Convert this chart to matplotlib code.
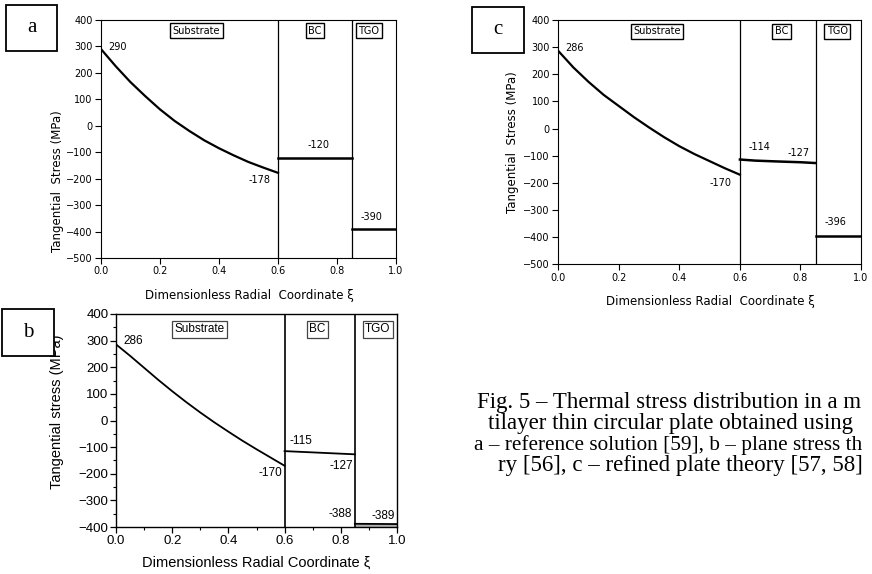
import matplotlib
matplotlib.use('Agg')
import matplotlib.pyplot as plt
from matplotlib.patches import Rectangle
from matplotlib.ticker import FormatStrFormatter, MultipleLocator

W, H = 872, 574
fig = plt.figure(figsize=(W / 100, H / 100), dpi=100)

def fx(px):
    return px / W

def fy(py):
    return 1 - py / H

# ---------------- data ----------------
xi_sub = [0.0, 0.05, 0.1, 0.15, 0.2, 0.25, 0.3, 0.35, 0.4, 0.45, 0.5, 0.55, 0.6]
a_sub = [290, 225, 165, 112, 62, 18, -20, -55, -85, -112, -137, -158, -178]
b_sub = [286, 243, 198, 153, 110, 69, 30, -7, -42, -76, -108, -139, -170]
c_sub = [286, 225, 172, 124, 83, 42, 4, -32, -65, -94, -120, -146, -170]

xi_bc = [0.6, 0.85]
a_bc = [-120, -120]
b_bc = [-115, -127]
xi_bc_c = [0.6, 0.65, 0.72, 0.8, 0.85]
c_bc = [-114, -118, -121, -124, -127]

xi_tgo = [0.85, 1.0]
a_tgo = [-390, -390]
b_tgo = [-388, -389]
c_tgo = [-395, -395]

interfaces = [0.6, 0.85]
layers = ['Substrate', 'BC', 'TGO']
xticks = [0.0, 0.2, 0.4, 0.6, 0.8, 1.0]
yticks_ac = [-500, -400, -300, -200, -100, 0, 100, 200, 300, 400]
yticks_b = [-400, -300, -200, -100, 0, 100, 200, 300, 400]

small = ['DejaVu Sans']
arial = ['Liberation Sans', 'DejaVu Sans']
serif = ['Liberation Serif', 'DejaVu Serif']


def excel_panel(ax, sub, bc_x, bc, tgo, ann, layer_pos):
    ax.set_xlim(0, 1)
    ax.set_ylim(-500, 400)
    ax.set_xticks(xticks)
    ax.set_yticks(yticks_ac)
    ax.xaxis.set_major_formatter(FormatStrFormatter('%.1f'))
    ax.tick_params(direction='out', length=4, width=0.8, pad=2, labelsize=7)
    for lab in ax.get_xticklabels() + ax.get_yticklabels():
        lab.set_family(small)
    for s in ax.spines.values():
        s.set_linewidth(0.8)
    for v in interfaces:
        ax.axvline(v, color='black', lw=0.9)
    ax.plot(xi_sub, sub, color='black', lw=1.6)
    ax.plot(bc_x, bc, color='black', lw=1.8)
    ax.plot(xi_tgo, tgo, color='black', lw=1.8)
    for (x, y, s, ha) in ann:
        ax.text(x, y, s, ha=ha, va='center', fontsize=7, family=small)
    for name, (x, y) in zip(layers, layer_pos):
        ax.text(x, y, name, ha='center', va='center', fontsize=7, family=small,
                bbox=dict(boxstyle='square,pad=0.25', fc='white', ec='black', lw=1.0))


# ---------------- panel a ----------------
axa = fig.add_axes([fx(101), fy(258), fx(295), 238 / H])
excel_panel(axa, a_sub, xi_bc, a_bc, a_tgo,
            [(0.024, 297, '290', 'left'), (0.537, -205, '-178', 'center'),
             (0.736, -72, '-120', 'center'), (0.917, -345, '-390', 'center')],
            [(0.324, 360), (0.725, 360), (0.908, 360)])
fig.text(fx(57), fy(181), 'Tangential  Stress (MPa)', rotation=90, ha='center',
         va='center', fontsize=8.5, family=small)
fig.text(fx(249), fy(295), 'Dimensionless Radial  Coordinate ξ', ha='center',
         va='center', fontsize=8.5, family=small)

# ---------------- panel c ----------------
axc = fig.add_axes([fx(558.3), fy(264.3), fx(302.7), 244.3 / H])
excel_panel(axc, c_sub, xi_bc_c, c_bc, c_tgo,
            [(0.022, 296, '286', 'left'), (0.537, -202, '-170', 'center'),
             (0.666, -68, '-114', 'center'), (0.794, -90, '-127', 'center'),
             (0.914, -343, '-396', 'center')],
            [(0.326, 358), (0.737, 358), (0.922, 358)])
fig.text(fx(512), fy(142), 'Tangential  Stress (MPa)', rotation=90, ha='center',
         va='center', fontsize=8.5, family=small)
fig.text(fx(710), fy(302), 'Dimensionless Radial  Coordinate ξ', ha='center',
         va='center', fontsize=8.5, family=small)

# ---------------- panel b ----------------
axb = fig.add_axes([fx(116), fy(527), fx(281), 213 / H])
axb.set_xlim(0, 1)
axb.set_ylim(-400, 400)
axb.set_xticks(xticks)
axb.set_yticks(yticks_b)
axb.xaxis.set_major_formatter(FormatStrFormatter('%.1f'))
axb.xaxis.set_minor_locator(MultipleLocator(0.1))
axb.yaxis.set_minor_locator(MultipleLocator(50))
axb.tick_params(which='major', direction='out', length=4, width=0.9, pad=1.5, labelsize=9.5)
axb.tick_params(which='minor', direction='out', length=2, width=0.8)
for lab in axb.get_xticklabels() + axb.get_yticklabels():
    lab.set_family(arial)
for s in axb.spines.values():
    s.set_linewidth(1.0)
for v in interfaces:
    axb.axvline(v, color='black', lw=1.2)
axb.plot(xi_sub, b_sub, color='black', lw=1.3)
axb.plot(xi_bc, b_bc, color='black', lw=1.3)
axb.fill_between(xi_tgo, b_tgo, [-400, -400], color='#b0b0b0', lw=0)
axb.plot(xi_tgo, b_tgo, color='black', lw=1.3)
for (x, y, s, ha) in [(0.028, 297, '286', 'left'), (0.55, -197, '-170', 'center'),
                      (0.658, -78, '-115', 'center'), (0.803, -171, '-127', 'center'),
                      (0.797, -352, '-388', 'center'), (0.951, -358, '-389', 'center')]:
    axb.text(x, y, s, ha=ha, va='center', fontsize=8.5, family=arial)
for name, x in zip(layers, [0.298, 0.717, 0.932]):
    axb.text(x, 342, name, ha='center', va='center', fontsize=8.5, family=arial,
             bbox=dict(boxstyle='square,pad=0.2', fc='white', ec='#444444', lw=0.9))
fig.text(fx(57), fy(412), 'Tangential stress (MPa)', rotation=90, ha='center',
         va='center', fontsize=10.5, family=arial)
fig.text(fx(256), fy(563), 'Dimensionless Radial Coordinate ξ', ha='center',
         va='center', fontsize=10.5, family=arial)

# ---------------- panel letters ----------------
for letter, (x0, y0, x1, y1) in [('a', (6, 5, 57, 51)), ('b', (2, 309, 54, 356)),
                                 ('c', (472, 7, 524, 53))]:
    r = Rectangle((fx(x0), fy(y1)), fx(x1 - x0), (y1 - y0) / H,
                  transform=fig.transFigure, fc='white', ec='black', lw=1.3, zorder=10)
    fig.add_artist(r)
    fig.text(fx((x0 + x1) / 2), fy((y0 + y1) / 2), letter, ha='center', va='center',
             fontsize=15, family=serif, zorder=11)

# ---------------- caption (as visible in the reference crop) ----------------
caption = [
    (477, 408, 'Fig. 5 – Thermal stress distribution in a m', 16.5),
    (488, 429, 'tilayer thin circular plate obtained using', 16.5),
    (474, 450, 'a – reference solution [59], b – plane stress th', 15.3),
    (498, 471, 'ry [56], c – refined plate theory [57, 58]', 16.5),
]
for x, y, s, fs in caption:
    fig.text(fx(x), fy(y), s, ha='left', va='baseline', fontsize=fs, family=serif)

fig.savefig('out.png', dpi=100)
